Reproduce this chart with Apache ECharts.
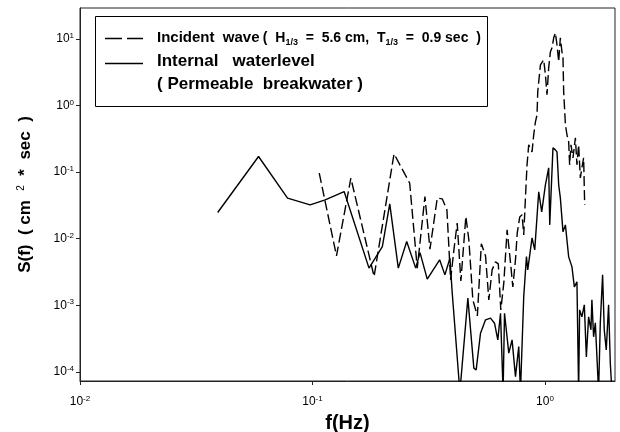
<!DOCTYPE html>
<html>
<head>
<meta charset="utf-8">
<script src="https://cdn.jsdelivr.net/npm/echarts@6/dist/echarts.min.js"></script>
<style>html,body{margin:0;padding:0;background:#fff;}#chart{width:620px;height:432px;}</style>
</head>
<body>
<div id="chart"></div>
<script>
// Incident wave spectrum (dashed)
const freqIncident = [0.1069,0.1268,0.1462,0.1840,0.2242,0.2618,0.2822,0.3045,0.3200,0.3440,
  0.3613,0.3785,0.3926,0.4057,0.4191,0.4347,0.4567,0.4704,0.4894,0.5117,
  0.5323,0.5548,0.5733,0.5922,0.6125,0.6296,0.6455,0.6650,0.6871,0.7107,
  0.7270,0.7464,0.7597,0.7787,0.7967,0.8100,0.8238,0.8369,0.8511,0.8794,
  0.8943,0.9095,0.9241,0.9305,0.9557,0.9872,1.004,1.020,1.037,1.055,
  1.072,1.090,1.108,1.126,1.145,1.164,1.183,1.195,1.203,1.224,
  1.243,1.264,1.276,1.293,1.319,1.351,1.372,1.395,1.419,1.441,
  1.466,1.481];
const specIncident = [0.0963,0.00552,0.0810,0.00270,0.1876,0.0681,0.00361,0.0429,0.00695,0.0406,
  0.0396,0.0271,0.00241,0.00679,0.0171,0.00232,0.0215,0.00959,0.001205,0.000693,
  0.00836,0.00552,0.001205,0.00340,0.00449,0.00419,0.000853,0.00217,0.01355,0.00434,
  0.00189,0.00481,0.01222,0.0212,0.0228,0.0114,0.0410,0.1283,0.2560,0.2009,
  0.3622,0.5675,0.7228,1.600,4.07,4.84,2.88,1.443,3.67,6.38,
  7.33,10.35,12.3,8.13,4.52,10.35,6.38,5.19,1.600,0.512,
  0.362,0.284,0.1283,0.256,0.1633,0.3265,0.1283,0.256,0.0818,0.1156,
  0.1633,0.0322];

// Internal water level spectrum (solid)
const freqInternal = [0.0391,0.0586,0.0781,0.0977,0.1134,0.1368,0.1750,0.1997,0.2149,0.2339,
  0.2542,0.2779,0.2900,0.3115,0.3522,0.3710,0.3900,0.3990,0.4304,0.4658,
  0.4943,0.5057,0.5280,0.5548,0.5830,0.6065,0.6266,0.6436,0.6603,0.6696,
  0.6985,0.7217,0.7464,0.7710,0.7841,0.8100,0.8322,0.8429,0.8794,0.9033,
  0.9397,0.9678,1.004,1.037,1.048,1.082,1.108,1.126,1.145,1.164,
  1.195,1.224,1.264,1.306,1.337,1.372,1.395,1.409,1.441,1.476,
  1.506,1.540,1.576,1.591,1.618,1.646,1.672,1.700,1.729,1.769,
  1.798,1.834,1.877,1.909,1.940];
const specInternal = [0.0247,0.171,0.0406,0.0322,0.0383,0.0509,0.00361,0.00760,0.0333,0.00361,
  0.00904,0.00361,0.00618,0.00247,0.00481,0.00286,0.00509,0.00153,0.00005,0.00128,
  0.000114,0.000107,0.000381,0.000604,0.000640,0.000538,0.000302,0.000760,0.00005,0.000760,
  0.000191,0.000302,0.0000849,0.000240,0.00005,0.00135,0.00538,0.00340,0.01028,0.00679,
  0.0505,0.0252,0.0643,0.1156,0.0161,0.2307,0.2154,0.2009,0.0643,0.0410,
  0.01265,0.0161,0.00533,0.00377,0.00189,0.00225,0.00005,0.000853,0.000670,0.001014,
  0.000168,0.000670,0.000428,0.001205,0.000336,0.000544,0.000564,0.00005,0.000544,0.00286,
  0.000428,0.000214,0.001014,0.000136,0.00005];

const xTicks = [0.01, 0.1, 1];
const yTicks = [0.0001, 0.001, 0.01, 0.1, 1, 10];
const seriesNames = ['Incident  wave', 'Internal   waterlevel'];
const incidentNote = ['(  H', '1/3', '  =  5.6 cm,  T', '1/3', '  =  0.9 sec  )'];
const legendNote = '( Permeable  breakwater )';
const xAxisTitle = 'f(Hz)';

const FONT = 'Liberation Sans, Arial, sans-serif';
const chart = echarts.init(document.getElementById('chart'), null, {renderer: 'canvas'});

function powLabel(v) {
  const r = Math.round(Math.log10(v));
  return '{b|10}{e|' + r + '}';
}
const labelRich = {
  b: {fontSize: 12, fontFamily: FONT, color: '#000', lineHeight: 14},
  e: {fontSize: 8, fontFamily: FONT, color: '#000', verticalAlign: 'top', lineHeight: 14, padding: [0, 0, 6, 0]}
};

const legendRich = {
  a: {fontSize: 15, fontWeight: 'bold', fontFamily: FONT, fill: '#000', lineHeight: 18},
  b: {fontSize: 17, fontWeight: 'bold', fontFamily: FONT, fill: '#000', lineHeight: 18},
  s: {fontSize: 14, fontWeight: 'bold', fontFamily: FONT, fill: '#000', lineHeight: 18},
  sub: {fontSize: 9, fontWeight: 'bold', fontFamily: FONT, fill: '#000', lineHeight: 9, verticalAlign: 'bottom'}
};
const row1 = '{a|' + seriesNames[0] + '} {s|' + incidentNote[0] + '}{sub|' + incidentNote[1] + '}{s|' +
  incidentNote[2] + '}{sub|' + incidentNote[3] + '}{s|' + incidentNote[4] + '}';

const option = {
  animation: false,
  backgroundColor: '#fff',
  grid: {left: 80, right: 5, top: 8, bottom: 51, show: true, borderColor: '#222', borderWidth: 1,
    containLabel: false, outerBoundsMode: 'none'},
  graphic: [
    {type: 'rect', shape: {x: 95.5, y: 16.5, width: 392, height: 90}, style: {fill: '#fff', stroke: '#000', lineWidth: 1}, z: 100},
    {type: 'line', shape: {x1: 105, y1: 38.5, x2: 143, y2: 38.5}, style: {stroke: '#000', lineWidth: 1.3, lineDash: [17, 5]}, z: 101},
    {type: 'line', shape: {x1: 105, y1: 63.5, x2: 143, y2: 63.5}, style: {stroke: '#000', lineWidth: 1.3}, z: 101},
    {type: 'text', x: 157, y: 38, z: 101, style: {text: row1, rich: legendRich, verticalAlign: 'middle', fill: '#000'}},
    {type: 'text', x: 157, y: 61, z: 101, style: {text: '{b|' + seriesNames[1] + '}', rich: legendRich, verticalAlign: 'middle', fill: '#000'}},
    {type: 'text', x: 157, y: 84, z: 101, style: {text: '{b|' + legendNote + '}', rich: legendRich, verticalAlign: 'middle', fill: '#000'}}
  ],
  xAxis: {
    type: 'log', logBase: 10, min: 0.01, max: 2,
    name: xAxisTitle, nameLocation: 'middle', nameGap: 29,
    nameTextStyle: {fontSize: 20, fontWeight: 'bold', fontFamily: FONT, color: '#000'},
    axisLine: {show: true, lineStyle: {color: '#222', width: 1}},
    axisTick: {show: true, length: 4, inside: false, lineStyle: {color: '#222'}, customValues: xTicks},
    minorTick: {show: false},
    splitLine: {show: false},
    axisLabel: {margin: 14, formatter: powLabel, rich: labelRich, customValues: xTicks}
  },
  yAxis: {
    type: 'log', logBase: 10, min: 0.000073, max: 29,
    name: 'S(f)  ( cm  {sup|2}  *  sec  )', nameLocation: 'middle', nameGap: 46,
    nameTextStyle: {fontSize: 17, fontWeight: 'bold', fontFamily: FONT, color: '#000',
      rich: {sup: {fontSize: 10, fontWeight: 'normal', fontFamily: FONT, color: '#000', verticalAlign: 'top', padding: [0, 0, 8, 0]}}},
    axisLine: {show: true, lineStyle: {color: '#222', width: 1}},
    axisTick: {show: true, length: 4, inside: false, lineStyle: {color: '#222'}, customValues: yTicks},
    minorTick: {show: false},
    splitLine: {show: false},
    axisLabel: {margin: 6, formatter: powLabel, rich: labelRich, customValues: yTicks}
  },
  series: [
    {
      name: seriesNames[0], type: 'line', showSymbol: false, symbol: 'none', clip: true,
      lineStyle: {color: '#000', width: 1.4, type: [10, 4]},
      itemStyle: {color: '#000'},
      data: freqIncident.map((f, i) => [f, specIncident[i]])
    },
    {
      name: seriesNames[1], type: 'line', showSymbol: false, symbol: 'none', clip: true,
      lineStyle: {color: '#000', width: 1.4},
      itemStyle: {color: '#000'},
      data: freqInternal.map((f, i) => [f, specInternal[i]])
    }
  ]
};
chart.setOption(option);
</script>
</body>
</html>
